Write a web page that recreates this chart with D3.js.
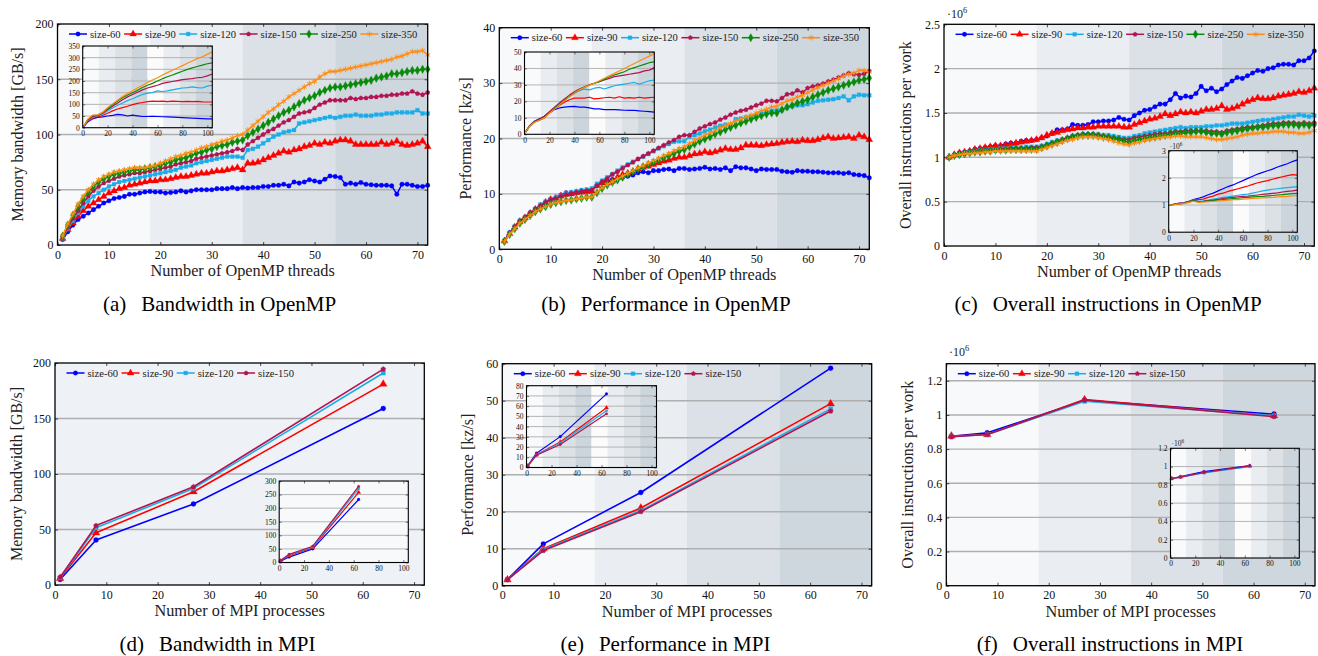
<!DOCTYPE html>
<html><head><meta charset="utf-8">
<script src="https://cdn.jsdelivr.net/npm/d3@7"></script>
<style>body{margin:0;background:#fff;} svg{display:block;}</style>
</head><body>
<svg id="chart" width="1318" height="656"></svg>
<script>
// ---------------- DATA ----------------
const sizes6 = ["size-60","size-90","size-120","size-150","size-250","size-350"];
const sizes4 = ["size-60","size-90","size-120","size-150"];
const ompThreads = d3.range(1, 73);
const insetThreads = [1,4,8,12,16,20,24,28,32,36,40,44,48,52,56,60,64,68,72,76,80,84,88,92,96,100,104];
const mpiProcs = [1,8,27,64];
const mainXTicks = [0,10,20,30,40,50,60,70];
const insetXTicks = [0,20,40,60,80,100];

// (a) Bandwidth in OpenMP [GB/s]
const a60 = [5,12,18,23,26,29,32,35,38,40, 42,43,44,46,46,47,48,48.5,48,48, 47,47.5,48,49,48,49,50,50,50,50, 51,51,51,52,51,52,51.5,52,52,53, 53,54,54,55,53.5,57,56,57,59,58, 57,59.5,62.5,62,61,55,56,55,56.5,55, 54.5,54,54,54,53.5,46,55,55,54,53, 53,54];
const a90 = [6,14,20,26,31,35,38,41,44,47, 49,51,52,54,55,56,57,58,58,59, 59,60,61,62,62,63,64,65,65,66, 67,67,68,69,70,68,74,74,75,77, 79,81,83,85,84,86,87,89,90,92, 91,93,92,94,95,95,94,91,91,91, 91,91,93,91,92,94,91,90,91,92, 94,89];
const a120 = [6,15,22,29,35,40,44,47,50,53, 55,57,58,59,60,61,62,63,64,65, 66,67,68,70,71,72,74,75,76,77, 78,79,80,80,80,79,86,87,89,92, 95,98,100,102,103,104,110,111,112,113, 114,115,116,115,116,117,117,118,117,117, 117,118,118,119,119,120,120,120,120,122, 119,119];
const a150 = [7,16,24,31,38,44,49,53,56,58, 60,62,63,64,65,65,66,67,68,69, 70,71,73,74,75,76,78,79,80,81, 82,83,84,85,87,86,91,94,97,100, 103,105,108,111,113,116,119,120,121,124, 127,129,131,131,131,131,133,132,133,133, 134,134,135,135,136,136,137,137,139,137, 136,138];
const a250 = [8,18,27,35,42,48,53,57,60,62, 64,65,66,67,68,68,69,70,71,72, 74,75,77,78,79,81,83,84,86,87, 89,90,91,93,94,95,99,102,105,108, 111,114,117,120,122,125,128,131,133,135, 138,140,142,143,143,144,145,146,147,148, 149,151,152,153,155,155,156,157,158,158, 159,159];
const a350 = [8,19,28,37,44,50,55,59,62,64, 66,67,68,69,70,70,70,71,72,74, 76,78,80,81,83,84,86,88,89,91, 92,94,95,97,99,100,104,108,112,116, 120,123,127,130,134,137,140,143,146,148, 152,155,157,157,158,159,160,161,162,163, 164,165,166,167,168,170,171,173,175,175, 176,172];
const ai60 = [5,25,38,44,46,50,53,57,55,50,54,51,48,48,49,48,47,46,45,44,43,42,41,40,39,38,38];
const ai90 = [6,28,40,47,52,62,72,80,86,92,99,104,108,112,114,113,114,112,114,113,112,113,112,113,111,110,110];
const ai120 = [6,30,44,50,58,72,84,96,106,116,124,134,142,148,150,158,155,158,162,166,170,172,175,172,170,178,182];
const ai150 = [7,32,48,52,62,78,92,106,120,132,142,152,162,170,176,182,190,194,198,202,206,208,210,214,216,222,230];
const ai250 = [8,34,52,54,64,82,98,114,128,140,150,160,172,182,190,200,210,218,226,234,242,250,256,262,268,274,278];
const ai350 = [8,36,54,55,66,86,102,118,134,146,158,170,182,194,204,214,226,236,246,256,266,276,286,296,304,314,325];

// (b) Performance in OpenMP [kz/s]
const b60 = [1.5,3,4,5,5.5,6.5,7,7.8,8.3,9, 9.3,9.8,10.2,10.2,10.3,10.5,10.6,10.7,11.5,12, 12.3,12.6,12.8,13,13.2,13.4,13.8,14,13.8,14.2, 14.2,14.4,14.5,14.2,14.6,14.6,14.4,14.5,14.6,14.8, 14.5,14.6,14.4,14.7,14.2,14.9,14.7,14.7,14.5,14.2, 14.5,14.4,14.4,14.4,14.1,14,13.9,14.2,14.1,14.1, 14,14,13.9,13.8,13.8,13.8,13.7,13.8,13.5,13.4, 13.3,12.9];
const b90 = [1.5,2.8,4,5,5.7,6.5,7.2,7.8,8.5,9, 9.2,9.6,9.9,10,10.2,10.3,10.4,10.5,11.5,12, 12,12.3,13,13.5,13.7,14,14.5,14.8,15,15.3, 15.6,15.9,16.1,16.4,16.6,16.6,16.9,17.2,17.3,17.6, 17.4,17.6,17.9,18.2,18,18,18.3,18.8,18.8,18.8, 18.7,18.9,19,19.1,19.3,19.4,19.5,19.4,19.7,19.6, 19.6,19.8,20.1,20.3,20,20.1,20.2,20.3,20,20.6, 20.3,19.8];
const b120 = [1.5,2.9,4.1,5.2,5.8,6.6,7.3,8.1,8.6,9.1, 9.4,9.7,10.1,10.3,10.5,10.7,10.8,11,11.8,12.4, 13,13.6,14.2,14.8,15.3,15.8,16.3,16.7,17.2,17.7, 18.2,18.6,19,19.4,19.5,19.5,20.3,20.6,20.9,21.3, 21.6,22,22.3,22.5,22.4,23.5,23.6,23.8,24,24.2, 24.5,24.8,25,25.1,25.1,25.5,25.8,26,26,26.2, 26.5,26.8,26.9,27,27.1,27.3,27.6,26.9,27.6,27.9, 27.8,27.8];
const b150 = [1.5,2.9,4.1,5.1,5.8,6.6,7.3,7.9,8.5,9, 9.2,9.6,9.9,10.1,10.3,10.5,10.6,10.7,11.5,12.2, 12.8,13.5,14,14.6,15.2,15.7,16.3,16.8,17.3,17.8, 18.3,18.8,19.3,19.7,20.3,20.6,20.6,21.2,21.8,22.2, 22.6,22.9,23.4,23.8,24.3,24.7,25,25.2,25.6,26, 26.3,26.8,26.8,26.7,27.3,28,28.1,28.7,28.3,29.1, 29.4,29.6,29.9,30.3,30.6,31,31.4,31.8,31.6,31.5, 31.7,32.2];
const b250 = [1.4,2.7,3.7,4.7,5.4,6.1,6.8,7.3,7.7,8.1, 8.4,8.6,8.8,8.9,9.1,9.2,9.4,9.4,10.2,11, 11.6,12.1,12.5,13,13.5,14,14.5,14.9,15.3,15.7, 16.1,16.5,16.9,17.3,17.7,18,18.5,19,19.5,19.9, 20.3,20.8,21.2,21.6,22,22.4,22.8,23.1,23.5,23.8, 24.1,24.4,24.6,24.6,25.2,25.7,26,26.4,26.7,27, 27.5,27.9,28.3,28.7,29,29.3,29.6,29.9,30.2,30.5, 30.7,30.9];
const b350 = [1.4,2.7,3.7,4.7,5.4,6.1,6.8,7.3,7.7,8.1, 8.4,8.6,8.8,8.9,9.1,9.2,9.4,9.4,10.3,11.1, 11.7,12.2,12.7,13.2,13.7,14.2,14.7,15.1,15.6,16, 16.4,16.9,17.3,17.8,18.2,18.5,19.1,19.6,20.1,20.6, 21,21.4,21.9,22.3,22.7,23.2,23.5,23.9,24.2,24.6, 25,25.3,25.7,25.8,26.3,26.8,27,27.5,27.8,28.3, 28.7,29.2,29.6,30,30.4,30.8,31.3,31.6,31.8,32.3, 32.3,32];
const bi60 = [1.5,5,7.8,9,11,13,15,16,16.5,16.8,17,16.5,16.5,16,15.5,15.5,15,15,15,14.8,14.6,14.5,14.5,14.2,14,13.8,13.5];
const bi90 = [1.5,5,7.8,9.3,11,13.5,15.5,17.5,19.5,21,22,22,22,22.5,21.5,21.8,22.2,22.5,22,22.8,22,22.3,22,22.5,22,22.3,22.5];
const bi120 = [1.5,5.2,8.1,9.5,11,13.5,16,18.5,21,23,25,26.5,27.5,27,28,28.5,27.5,28.5,29.5,30,30.5,31,31.5,30.5,31.5,32.5,33];
const bi150 = [1.5,5.1,7.9,9.5,11,13.8,16.5,19,21.5,23.8,25.8,27.5,28.8,30,31,32,33,34,35,35.5,36,36.5,37,37.5,38.5,39,40.5];
const bi250 = [1.4,4.7,7.3,8.5,10,13,15.5,18,20.5,23,25,27,28.5,30,31,32,33.5,35,36,37,38,39.5,40.5,41.5,42.5,43.5,44];
const bi350 = [1.4,4.7,7.3,8.5,10,12.8,15.3,17.8,20.3,22.8,25,27,28.5,30,31,32.5,34,35.5,37,38.5,40,41.5,43,44.5,46,47.5,49];

// (c) Overall instructions per work in OpenMP [x10^6]
const c60 = [1,1.03,1.05,1.06,1.07,1.09,1.10,1.11,1.12,1.13, 1.13,1.15,1.16,1.16,1.18,1.19,1.19,1.20,1.22,1.24, 1.27,1.31,1.31,1.32,1.37,1.36,1.36,1.37,1.40,1.40, 1.41,1.41,1.42,1.45,1.43,1.42,1.47,1.50,1.53,1.54, 1.57,1.60,1.60,1.65,1.72,1.67,1.69,1.68,1.72,1.80, 1.75,1.78,1.74,1.77,1.82,1.86,1.90,1.89,1.92,1.95, 1.98,1.97,2.00,2.01,2.04,2.05,2.05,2.04,2.09,2.09, 2.12,2.20];
const c90 = [1,1.03,1.05,1.06,1.07,1.09,1.10,1.11,1.12,1.13, 1.13,1.14,1.15,1.16,1.17,1.18,1.19,1.20,1.22,1.25, 1.27,1.28,1.30,1.31,1.32,1.33,1.33,1.34,1.34,1.35, 1.35,1.35,1.35,1.35,1.34,1.34,1.37,1.39,1.41,1.43, 1.44,1.46,1.49,1.47,1.49,1.51,1.50,1.51,1.50,1.52, 1.54,1.54,1.55,1.58,1.54,1.55,1.57,1.60,1.63,1.65, 1.67,1.66,1.66,1.67,1.69,1.70,1.71,1.72,1.74,1.73, 1.75,1.78];
const c120 = [1,1.02,1.03,1.05,1.06,1.07,1.08,1.08,1.09,1.09, 1.10,1.10,1.11,1.11,1.11,1.12,1.12,1.12,1.13,1.15, 1.17,1.19,1.20,1.22,1.24,1.25,1.26,1.26,1.26,1.26, 1.25,1.25,1.24,1.23,1.22,1.22,1.24,1.25,1.27,1.28, 1.29,1.30,1.31,1.32,1.33,1.34,1.33,1.34,1.34,1.34, 1.35,1.35,1.36,1.36,1.37,1.38,1.38,1.38,1.39,1.40, 1.41,1.42,1.42,1.43,1.44,1.45,1.46,1.46,1.48,1.47, 1.46,1.47];
const c150 = [1,1.02,1.03,1.04,1.05,1.06,1.07,1.07,1.08,1.08, 1.09,1.09,1.10,1.10,1.10,1.10,1.11,1.11,1.12,1.14, 1.16,1.18,1.20,1.22,1.24,1.25,1.26,1.26,1.26,1.25, 1.24,1.23,1.22,1.21,1.20,1.20,1.22,1.23,1.24,1.25, 1.26,1.27,1.27,1.28,1.29,1.29,1.30,1.30,1.30,1.30, 1.30,1.29,1.29,1.28,1.30,1.31,1.32,1.33,1.34,1.34, 1.35,1.36,1.37,1.38,1.38,1.39,1.39,1.39,1.38,1.39, 1.38,1.39];
const c250 = [1,1.02,1.03,1.04,1.05,1.06,1.06,1.07,1.07,1.08, 1.08,1.08,1.09,1.09,1.09,1.09,1.09,1.09,1.11,1.13, 1.15,1.17,1.19,1.21,1.23,1.24,1.25,1.25,1.25,1.24, 1.23,1.22,1.21,1.20,1.18,1.17,1.19,1.20,1.21,1.22, 1.23,1.24,1.25,1.26,1.27,1.27,1.28,1.28,1.29,1.29, 1.28,1.27,1.27,1.26,1.28,1.29,1.30,1.31,1.32,1.33, 1.34,1.34,1.35,1.36,1.36,1.37,1.37,1.37,1.36,1.37, 1.36,1.37];
const c350 = [1,1.02,1.03,1.04,1.04,1.05,1.05,1.06,1.06,1.07, 1.07,1.07,1.07,1.07,1.07,1.07,1.07,1.07,1.09,1.11, 1.13,1.15,1.17,1.19,1.20,1.22,1.23,1.23,1.23,1.22, 1.21,1.20,1.18,1.16,1.15,1.14,1.16,1.17,1.19,1.20, 1.21,1.22,1.23,1.23,1.24,1.24,1.23,1.23,1.23,1.23, 1.22,1.21,1.20,1.20,1.21,1.22,1.23,1.25,1.26,1.27, 1.27,1.28,1.28,1.29,1.29,1.29,1.28,1.28,1.27,1.27, 1.28,1.30];
const ci60 = [1,1.03,1.06,1.08,1.13,1.20,1.25,1.30,1.38,1.44,1.52,1.60,1.68,1.74,1.82,1.90,1.98,2.06,2.14,2.20,2.26,2.32,2.40,2.46,2.52,2.60,2.66];
const ci90 = [1,1.03,1.06,1.08,1.13,1.18,1.20,1.22,1.28,1.33,1.40,1.44,1.50,1.55,1.60,1.65,1.70,1.76,1.82,1.86,1.90,1.95,2.00,2.04,2.08,2.12,2.10];
const ci120 = [1,1.02,1.05,1.07,1.12,1.18,1.14,1.15,1.18,1.22,1.25,1.28,1.30,1.33,1.36,1.38,1.40,1.44,1.48,1.52,1.55,1.58,1.60,1.62,1.64,1.66,1.68];
const ci150 = [1,1.02,1.04,1.06,1.12,1.17,1.13,1.14,1.16,1.18,1.21,1.24,1.26,1.28,1.30,1.32,1.33,1.35,1.37,1.39,1.41,1.43,1.45,1.48,1.50,1.52,1.55];
const ci250 = [1,1.02,1.04,1.06,1.11,1.16,1.12,1.13,1.15,1.16,1.18,1.20,1.22,1.24,1.25,1.27,1.28,1.30,1.31,1.32,1.34,1.35,1.37,1.38,1.40,1.42,1.43];
const ci350 = [1,1.01,1.03,1.05,1.09,1.14,1.10,1.11,1.12,1.13,1.15,1.16,1.18,1.20,1.20,1.22,1.23,1.24,1.25,1.26,1.27,1.28,1.30,1.31,1.32,1.34,1.35];

// (d) Bandwidth in MPI [GB/s]
const d60 = [5,40.5,73,159], d90 = [6,47,84,181], d120 = [6.5,51.5,87,191], d150 = [7,53.5,88.5,194.5];
const di60 = [5,20,50,232], di90 = [6,25,55,258], di120 = [7,28,57,272], di150 = [7,30,60,280];
// (e) Performance in MPI [kz/s]
const e60 = [1.7,11.3,25.2,58.8], e90 = [1.6,10,21,49.2], e120 = [1.6,9.8,20.3,47.8], e150 = [1.6,9.5,20,47.2];
const ei60 = [1.7,14,30.2,72], ei90 = [1.6,12.5,25,58.5], ei120 = [1.6,12.3,24,55.5], ei150 = [1.6,12,22.5,52.5];
// (f) Overall instructions per work in MPI [x10^6]
const f60 = [0.875,0.895,1.085,1.005], f90 = [0.877,0.885,1.09,0.995], f120 = [0.872,0.885,1.08,0.995], f150 = [0.872,0.885,1.087,0.99];
const fi60 = [0.87,0.89,0.945,1.01], fi90 = [0.87,0.885,0.935,1.005], fi120 = [0.87,0.885,0.93,1.0], fi150 = [0.87,0.885,0.935,1.008];

// ---------------- STYLE ----------------
const FONT = '"Liberation Serif","DejaVu Serif",serif';
const mainBandEdges = [0,18,36,54,72];
const mainBandColors = ["#f8f9fb","#eaedf1","#dce1e7","#ced6de"];
const insetBandEdges = [0,13,26,39,52,65,78,91,104];
const insetBandColors = ["#f9fafb","#e9ecf0","#dce1e6","#ccd4dc","#fbfbfc","#e9ecf0","#dce1e6","#ccd4dc"];

const pentagon = {draw(ctx, size){ const r = Math.sqrt(size/2.378); for(let i=0;i<5;i++){ const a=-Math.PI/2+i*2*Math.PI/5; const px=r*Math.cos(a), py=r*Math.sin(a); if(i) ctx.lineTo(px,py); else ctx.moveTo(px,py);} ctx.closePath(); }};
const asterisk = {draw(ctx, size){ const r = Math.sqrt(size)*0.6; for(let k=0;k<3;k++){ const a=Math.PI/2+k*Math.PI/3; ctx.moveTo(r*Math.cos(a), r*Math.sin(a)); ctx.lineTo(-r*Math.cos(a), -r*Math.sin(a)); } }};
const styles = [
  {color:"#0000ff", sym:d3.symbolCircle, fill:true, size:13},
  {color:"#ff0000", sym:d3.symbolTriangle, fill:true, size:17},
  {color:"#19aeea", sym:d3.symbolSquare, fill:true, size:12},
  {color:"#b3134f", sym:pentagon, fill:true, size:11},
  {color:"#0a8a0a", sym:d3.symbolDiamond, fill:true, size:17},
  {color:"#ff8c10", sym:asterisk, fill:false, size:18}
];

const svg = d3.select("#chart");

function drawPlot(c, opt){
  const g = svg.append("g").attr("transform", `translate(${c.x},${c.y})`);
  const x = d3.scaleLinear().domain(c.xDomain).range([0, c.w]);
  const y = d3.scaleLinear().domain(c.yDomain).range([c.h, 0]);
  if (c.bandEdges) {
    g.selectAll("rect.band").data(c.bandColors).join("rect").attr("class","band")
      .attr("x", (d,i) => x(c.bandEdges[i])).attr("width", (d,i) => x(c.bandEdges[i+1]) - x(c.bandEdges[i]))
      .attr("y", 0).attr("height", c.h).attr("fill", d => d);
  } else {
    g.append("rect").attr("width", c.w).attr("height", c.h).attr("fill", c.bg);
  }
  g.selectAll("line.grid").data(c.yTicks.filter(v => v > c.yDomain[0] && v < c.yDomain[1])).join("line").attr("class","grid")
    .attr("x1", 0).attr("x2", c.w).attr("y1", d => y(d)).attr("y2", d => y(d))
    .attr("stroke", opt.gridColor).attr("stroke-width", opt.gridWidth);

  const styleAxis = s => { s.select(".domain").remove(); s.attr("font-family", FONT).attr("font-size", opt.fontSize);
    s.selectAll("text").attr("fill", "#111"); s.selectAll("line").attr("stroke", "#222").attr("stroke-width", opt.tickWidth); };
  g.append("g").attr("transform", `translate(0,${c.h})`)
    .call(d3.axisBottom(x).tickValues(c.xTicks).tickSize(-opt.tick).tickPadding(opt.xPad).tickFormat(d => String(d))).call(styleAxis);
  g.append("g").call(d3.axisTop(x).tickValues(c.xTicks).tickSize(-opt.tick).tickFormat("")).call(styleAxis);
  g.append("g").call(d3.axisLeft(y).tickValues(c.yTicks).tickSize(-opt.tick).tickPadding(opt.yPad).tickFormat(d => String(d))).call(styleAxis);
  g.append("g").attr("transform", `translate(${c.w},0)`).call(d3.axisRight(y).tickValues(c.yTicks).tickSize(-opt.tick).tickFormat("")).call(styleAxis);

  const line = d3.line().x(d => x(d[0])).y(d => y(d[1]));
  c.series.forEach((vals, i) => {
    const st = styles[i];
    const pts = c.xs.map((xv, j) => [xv, vals[j]]);
    g.append("path").datum(pts).attr("d", line).attr("fill", "none").attr("stroke", st.color)
      .attr("stroke-width", opt.lineWidth).attr("stroke-linejoin", "round");
    if (opt.markers) {
      g.append("g").selectAll("path").data(pts).join("path")
        .attr("transform", d => `translate(${x(d[0])},${y(d[1])})`)
        .attr("d", d3.symbol(st.sym, st.size * opt.markerScale))
        .attr("fill", st.fill ? st.color : "none").attr("stroke", st.color).attr("stroke-width", st.fill ? 0.3 : 0.9);
    }
  });
  g.append("rect").attr("width", c.w).attr("height", c.h).attr("fill", "none").attr("stroke", "#000").attr("stroke-width", opt.frame);
  return g;
}

function drawLegend(g, names, x0, y0){
  let cx = x0;
  names.forEach((nm, i) => {
    const st = styles[i];
    g.append("line").attr("x1", cx).attr("x2", cx + 18).attr("y1", y0).attr("y2", y0).attr("stroke", st.color).attr("stroke-width", 1.5);
    g.append("path").attr("transform", `translate(${cx + 9},${y0})`).attr("d", d3.symbol(st.sym, st.size * 1.2))
      .attr("fill", st.fill ? st.color : "none").attr("stroke", st.color).attr("stroke-width", st.fill ? 0.3 : 0.9);
    const t = g.append("text").attr("x", cx + 21).attr("y", y0).attr("dy", "0.34em").attr("font-family", FONT)
      .attr("font-size", 10.6).attr("fill", "#222").text(nm);
    cx += 21 + t.node().getComputedTextLength() + 3.5;
  });
}

function expLabel(x0, y0, fs){
  const t = svg.append("text").attr("x", x0).attr("y", y0).attr("font-family", FONT).attr("font-size", fs).attr("fill", "#222");
  t.append("tspan").text("·10");
  t.append("tspan").attr("dy", -fs * 0.4).attr("font-size", fs * 0.7).text("6");
}

const mainOpt = {fontSize:12, tick:3, xPad:5, yPad:4, lineWidth:1.5, markers:true, markerScale:1.25, gridColor:"#afafaf", gridWidth:1.4, frame:1.3, tickWidth:0.8};
const mpiOpt = Object.assign({}, mainOpt, {lineWidth:1.6, markerScale:1.5});
const insetOpt = {fontSize:7.5, tick:2.5, xPad:3, yPad:3, lineWidth:1.2, markers:false, markerScale:1, gridColor:"#adadad", gridWidth:0.9, frame:1.1, tickWidth:0.6};
const insetMpiOpt = Object.assign({}, insetOpt, {markers:true, markerScale:0.45});

const panels = [
  {x:57.5, y:24, w:370.2, h:221, yDomain:[0,200], yTicks:[0,50,100,150,200], xs:ompThreads, names:sizes6,
   series:[a60,a90,a120,a150,a250,a350], bands:true, opt:mainOpt,
   xlabel:"Number of OpenMP threads", ylabel:"Memory bandwidth [GB/s]", ylabelX:22.5, tag:"(a)", caption:"Bandwidth in OpenMP", capX:219.5, capY:311,
   inset:{x:82.7, y:46, w:129.6, h:81.7, yDomain:[0,350], yTicks:[0,50,100,150,200,250,300,350], xs:insetThreads, series:[ai60,ai90,ai120,ai150,ai250,ai350], bands:true, opt:insetOpt}},
  {x:499.3, y:27.7, w:370, h:221.6, yDomain:[0,40], yTicks:[0,10,20,30,40], xs:ompThreads, names:sizes6,
   series:[b60,b90,b120,b150,b250,b350], bands:true, opt:mainOpt,
   xlabel:"Number of OpenMP threads", ylabel:"Performance [kz/s]", ylabelX:471, tag:"(b)", caption:"Performance in OpenMP", capX:666, capY:311,
   inset:{x:524.5, y:52, w:129.8, h:82.3, yDomain:[0,50], yTicks:[0,10,20,30,40,50], xs:insetThreads, series:[bi60,bi90,bi120,bi150,bi250,bi350], bands:true, opt:insetOpt}},
  {x:944, y:24.3, w:370.3, h:221.7, yDomain:[0,2.5], yTicks:[0,0.5,1,1.5,2,2.5], xs:ompThreads, names:sizes6,
   series:[c60,c90,c120,c150,c250,c350], bands:true, opt:mainOpt, exp:[947,17.5],
   xlabel:"Number of OpenMP threads", ylabel:"Overall instructions per work", ylabelX:911, tag:"(c)", caption:"Overall instructions in OpenMP", capX:1108, capY:311,
   inset:{x:1168.7, y:150.7, w:128.6, h:81.5, yDomain:[0,3], yTicks:[0,1,2,3], xs:insetThreads, series:[ci60,ci90,ci120,ci150,ci250,ci350], bands:true, opt:insetOpt, exp:true}},
  {x:55, y:363, w:369.3, h:222, yDomain:[0,200], yTicks:[0,50,100,150,200], xs:mpiProcs, names:sizes4,
   series:[d60,d90,d120,d150], bands:false, bg:"#eef1f5", opt:mpiOpt,
   xlabel:"Number of MPI processes", ylabel:"Memory bandwidth [GB/s]", ylabelX:22, tag:"(d)", caption:"Bandwidth in MPI", capX:217.5, capY:650.5,
   inset:{x:279.2, y:481, w:129.1, h:81.5, yDomain:[0,300], yTicks:[0,50,100,150,200,250,300], xs:mpiProcs, series:[di60,di90,di120,di150], bands:false, bg:"#f8f9fb", opt:insetMpiOpt}},
  {x:502.3, y:363.7, w:369.4, h:222, yDomain:[0,60], yTicks:[0,10,20,30,40,50,60], xs:mpiProcs, names:sizes4,
   series:[e60,e90,e120,e150], bands:true, opt:mpiOpt,
   xlabel:"Number of MPI processes", ylabel:"Performance [kz/s]", ylabelX:473, tag:"(e)", caption:"Performance in MPI", capX:665.5, capY:650.5,
   inset:{x:526.5, y:385.7, w:130, h:81.8, yDomain:[0,80], yTicks:[0,10,20,30,40,50,60,70,80], xs:mpiProcs, series:[ei60,ei90,ei120,ei150], bands:true, opt:insetMpiOpt}},
  {x:946.3, y:363.7, w:368.7, h:222, yDomain:[0,1.3], yTicks:[0,0.2,0.4,0.6,0.8,1,1.2], xs:mpiProcs, names:sizes4,
   series:[f60,f90,f120,f150], bands:true, opt:mpiOpt, exp:[949,356],
   xlabel:"Number of MPI processes", ylabel:"Overall instructions per work", ylabelX:913, tag:"(f)", caption:"Overall instructions in MPI", capX:1110, capY:650.5,
   inset:{x:1170.5, y:448.3, w:128.8, h:109.7, yDomain:[0,1.2], yTicks:[0,0.2,0.4,0.6,0.8,1,1.2], xs:mpiProcs, series:[fi60,fi90,fi120,fi150], bands:true, opt:insetMpiOpt, exp:true}}
];

panels.forEach(p => {
  const g = drawPlot({x:p.x, y:p.y, w:p.w, h:p.h, xDomain:[0,72], yDomain:p.yDomain, yTicks:p.yTicks, xTicks:mainXTicks,
    xs:p.xs, series:p.series, bandEdges:p.bands ? mainBandEdges : null, bandColors:mainBandColors, bg:p.bg}, p.opt);
  drawLegend(g, p.names, 11.5, 10);
  svg.append("text").attr("x", p.x + p.w/2).attr("y", p.y + p.h + 31).attr("text-anchor", "middle")
    .attr("font-family", FONT).attr("font-size", 16.3).attr("fill", "#222").text(p.xlabel);
  svg.append("text").attr("transform", `translate(${p.ylabelX},${p.y + p.h/2}) rotate(-90)`).attr("text-anchor", "middle")
    .attr("font-family", FONT).attr("font-size", 16).attr("fill", "#222").text(p.ylabel);
  if (p.exp) expLabel(p.exp[0], p.exp[1], 12);
  const cap = svg.append("text").attr("x", p.capX).attr("y", p.capY).attr("text-anchor", "middle")
    .attr("font-family", FONT).attr("font-size", 21).attr("fill", "#000");
  cap.append("tspan").text(p.tag);
  cap.append("tspan").attr("dx", 15).text(p.caption);
  const s = p.inset;
  drawPlot({x:s.x, y:s.y, w:s.w, h:s.h, xDomain:[0,104], yDomain:s.yDomain, yTicks:s.yTicks, xTicks:insetXTicks,
    xs:s.xs, series:s.series, bandEdges:s.bands ? insetBandEdges : null, bandColors:insetBandColors, bg:s.bg}, s.opt);
  if (s.exp) expLabel(s.x + 1, s.y - 2, 7.5);
});
</script>
</body></html>
